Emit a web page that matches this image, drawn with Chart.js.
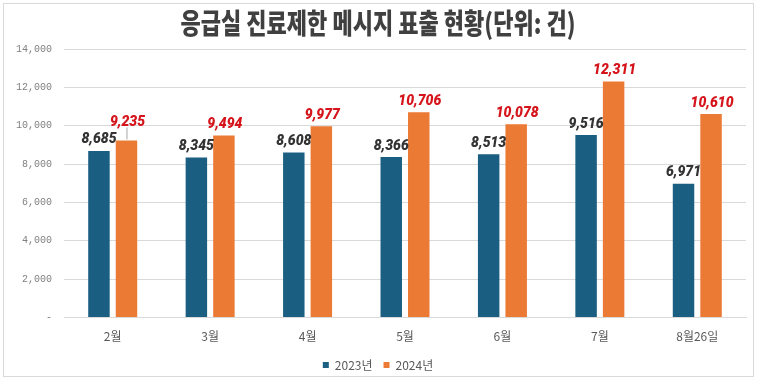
<!DOCTYPE html>
<html>
<head>
<meta charset="utf-8">
<script src="https://cdn.jsdelivr.net/npm/chart.js@4"></script>
<style>
  html, body { margin: 0; padding: 0; background: #fff; }
  .frame { position: absolute; left: 3px; top: 3px; width: 751px; height: 374px; border: 1px solid #d9d9d9; box-sizing: border-box; }
  .wrap { position: absolute; left: 0; top: 0; width: 760px; height: 387px; }
</style>
</head>
<body>
<div class="frame"></div>
<div class="wrap"><canvas id="chart" width="760" height="387"></canvas></div>
<script>
// chart data
const months = ['2월', '3월', '4월', '5월', '6월', '7월', '8월26일'];
const counts2023 = [8685, 8345, 8608, 8366, 8513, 9516, 6971];
const counts2024 = [9235, 9494, 9977, 10706, 10078, 12311, 10610];
const yTicks = [0, 2000, 4000, 6000, 8000, 10000, 12000, 14000];
const titleText = '응급실 진료제한 메시지 표출 현황(단위: 건)';

const blue = '#1a5e81';
const orange = '#eb7a35';

// condensed heavy title, drawn by hand so it can be squeezed
const squeezedTitle = {
  id: 'squeezedTitle',
  afterDraw(chart) {
    const ctx = chart.ctx;
    ctx.save();
    ctx.font = '900 28px "Noto Sans CJK KR"';
    const w = ctx.measureText(titleText).width;
    const sx = 395 / w;
    ctx.translate(378, 23);
    ctx.scale(sx, 1);
    ctx.fillStyle = '#404040';
    ctx.textAlign = 'center';
    ctx.textBaseline = 'middle';
    ctx.fillText(titleText, 0, 0);
    ctx.restore();
  }
};

// draws the value labels above bars
const valueLabels = {
  id: 'valueLabels',
  afterDatasetsDraw(chart) {
    const ctx = chart.ctx;
    chart.data.datasets.forEach((ds, di) => {
      const meta = chart.getDatasetMeta(di);
      meta.data.forEach((bar, i) => {
        let y = bar.y - 4;
        if (di === 1 && i === 0) {
          // leader line for the first 2024 label
          y = bar.y - 11;
          ctx.save();
          ctx.strokeStyle = '#a6a6a6';
          ctx.lineWidth = 1;
          ctx.beginPath();
          ctx.moveTo(bar.x + 0.5, bar.y - 1);
          ctx.lineTo(bar.x + 0.5, y - 2);
          ctx.stroke();
          ctx.restore();
        }
        ctx.save();
        ctx.font = 'italic 900 14px Roboto';
        ctx.fillStyle = di === 0 ? '#333333' : '#d5141b';
        ctx.textAlign = 'center';
        ctx.textBaseline = 'bottom';
        ctx.fillText(ds.data[i].toLocaleString('en-US'), bar.x + (di === 1 ? 1 : 0), y);
        ctx.restore();
      });
    });
  }
};

new Chart(document.getElementById('chart'), {
  type: 'bar',
  data: {
    labels: months,
    datasets: [
      { label: '2023년', data: counts2023, backgroundColor: blue },
      { label: '2024년', data: counts2024, backgroundColor: orange }
    ]
  },
  options: {
    responsive: false,
    animation: false,
    layout: { padding: { left: 10, right: 14, top: 49, bottom: 6 } },
    datasets: { bar: { categoryPercentage: 0.565, barPercentage: 0.78 } },
    plugins: {
      title: { display: false },
      legend: {
        position: 'bottom',
        labels: {
          boxWidth: 6,
          boxHeight: 6,
          padding: 11,
          color: '#595959',
          font: { family: 'Noto Sans CJK KR', size: 12 }
        }
      },
      tooltip: { enabled: false }
    },
    scales: {
      x: {
        grid: { display: false },
        border: { color: '#d9d9d9' },
        ticks: { color: '#595959', font: { family: 'Noto Sans CJK KR', size: 12 }, padding: 4 }
      },
      y: {
        min: 0,
        max: 14000,
        afterBuildTicks(axis) { axis.ticks = yTicks.map(v => ({ value: v })); },
        afterFit(axis) { axis.width = 54; },
        grid: { color: '#d9d9d9', drawTicks: false },
        border: { display: false },
        ticks: {
          color: '#7f7f7f',
          padding: 12,
          font: { family: 'Liberation Mono', size: 10 },
          callback: v => v === 0 ? '-' : v.toLocaleString('en-US')
        }
      }
    }
  },
  plugins: [valueLabels, squeezedTitle]
});
</script>
</body>
</html>
